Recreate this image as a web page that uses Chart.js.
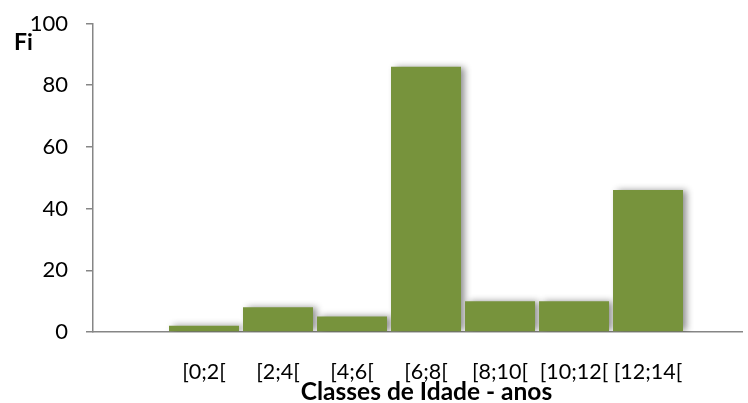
<!DOCTYPE html>
<html>
<head>
<meta charset="utf-8">
<script src="https://cdn.jsdelivr.net/npm/chart.js@4/dist/chart.umd.min.js"></script>
<style>
  html, body { margin: 0; padding: 0; background: #fff; }
  #wrap { width: 748px; height: 403px; }
</style>
</head>
<body>
<div id="wrap"><canvas id="c" width="748" height="403"></canvas></div>
<script>
// Age classes (years) and their absolute frequencies
const classes = ['[0;2[', '[2;4[', '[4;6[', '[6;8[', '[8;10[', '[10;12[', '[12;14['];
const freq = [2, 8, 5, 86, 10, 10, 46];
const yTicks = [0, 20, 40, 60, 80, 100];

const FONT = 'Lato, "Liberation Sans", sans-serif';
const AXIS = '#868686';
const BAR = '#77933c';

// Each class sits on a whole-number slot; slot 0 is left empty
const points = classes.map((c, i) => ({ x: i + 1, y: freq[i] }));

// Soft grey drop shadow on the right of every bar
const barShadow = {
  id: 'barShadow',
  beforeDatasetsDraw(chart) {
    const ctx = chart.ctx;
    ctx.save();
    ctx.shadowColor = 'rgba(0,0,0,0.45)';
    ctx.shadowBlur = 7;
    ctx.shadowOffsetX = 4;
    ctx.shadowOffsetY = 0;
  },
  afterDatasetsDraw(chart) {
    chart.ctx.restore();
  }
};

// Axis captions: "Fi" beside the top of the value axis, class caption under the labels
const captions = {
  id: 'captions',
  afterDraw(chart) {
    const ctx = chart.ctx;
    const a = chart.chartArea;
    ctx.save();
    ctx.fillStyle = '#000';
    ctx.textBaseline = 'middle';
    ctx.font = 'bold 23px ' + FONT;
    ctx.textAlign = 'left';
    ctx.fillText('Fi', 14, a.top + 19);
    ctx.font = 'bold 24.5px ' + FONT;
    ctx.textAlign = 'center';
    ctx.fillText('Classes de Idade - anos', (a.left + a.right) / 2 + 9, a.bottom + 60);
    ctx.restore();
  }
};

new Chart(document.getElementById('c'), {
  type: 'bar',
  data: {
    datasets: [{
      data: points,
      backgroundColor: BAR,
      borderWidth: 0,
      categoryPercentage: 1,
      barPercentage: 0.946
    }]
  },
  options: {
    responsive: false,
    animation: false,
    events: [],
    layout: { padding: { top: 23.5, right: 6, left: 0, bottom: 0 } },
    plugins: { legend: { display: false }, tooltip: { enabled: false } },
    scales: {
      x: {
        type: 'linear',
        offset: false,
        min: -0.5,
        max: 8.27,
        afterBuildTicks(scale) {
          scale.ticks = classes.map((c, i) => ({ value: i + 1 }));
        },
        afterFit(scale) { scale.height = 71; },
        grid: { drawOnChartArea: false, drawTicks: false },
        border: { color: AXIS, width: 1.5 },
        ticks: {
          autoSkip: false,
          maxRotation: 0,
          padding: 27,
          color: '#000',
          font: { family: FONT, size: 21.5 },
          callback: (v) => classes[v - 1]
        }
      },
      y: {
        min: 0,
        max: 100,
        afterBuildTicks(scale) {
          scale.ticks = yTicks.map(v => ({ value: v }));
        },
        afterFit(scale) {
          scale.width = 93;
          scale.paddingTop = 0;
          scale.paddingBottom = 0;
        },
        grid: { drawOnChartArea: false, drawTicks: true, tickLength: 7, color: AXIS, lineWidth: 1.5 },
        border: { color: AXIS, width: 1.5 },
        ticks: {
          padding: 18,
          color: '#000',
          font: { family: FONT, size: 22 }
        }
      }
    }
  },
  plugins: [barShadow, captions]
});
</script>
</body>
</html>
